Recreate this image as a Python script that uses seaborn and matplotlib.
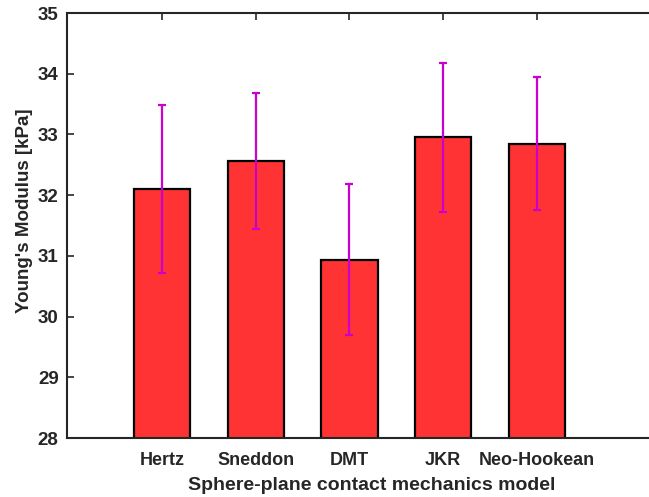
import matplotlib
matplotlib.use("Agg")
import matplotlib.pyplot as plt
import seaborn as sns
import numpy as np
import pandas as pd

# Contact-mechanics model fits: mean modulus and standard deviation (kPa)
models = ["Hertz", "Sneddon", "DMT", "JKR", "Neo-Hookean"]
modulus = [32.10, 32.56, 30.94, 32.95, 32.85]
stdev = [1.38, 1.12, 1.24, 1.23, 1.10]

y_ticks = [28, 29, 30, 31, 32, 33, 34, 35]

df = pd.DataFrame({"model": models, "modulus": modulus, "stdev": stdev})

sns.set_theme(style="white")
plt.rcParams["font.family"] = ["Liberation Sans", "DejaVu Sans"]
plt.rcParams["font.weight"] = "bold"

text_color = "#262626"

fig = plt.figure(figsize=(6.49, 4.97), dpi=100)
ax = fig.add_axes([67 / 649, 59 / 497, (162 + 5.5 * 93.7 - 67) / 649, 425 / 497])

sns.barplot(data=df, x="model", y="modulus", color="#FF3333", saturation=1,
            width=0.6, edgecolor="black", linewidth=1.6, errorbar=None, ax=ax)

ax.errorbar(np.arange(len(models)), df["modulus"], yerr=df["stdev"],
            fmt="none", ecolor="#CC00CC", elinewidth=1.6, capsize=3,
            capthick=1.6, zorder=5)

ax.set_ylim(28, 35)
ax.set_xlim(-1.014, 5.5)
ax.set_yticks(y_ticks)
ax.set_yticklabels([str(t) for t in y_ticks])

for side in ["left", "top", "bottom"]:
    ax.spines[side].set_visible(True)
    ax.spines[side].set_color(text_color)
    ax.spines[side].set_linewidth(1.5)
ax.spines["right"].set_visible(False)

ax.tick_params(axis="both", direction="in", length=5, width=1.2,
               color=text_color, labelcolor=text_color)
ax.tick_params(axis="x", top=True, bottom=True, pad=10, labelsize=13)
ax.tick_params(axis="y", left=True, pad=6, labelsize=13.5)
for lbl in ax.get_xticklabels() + ax.get_yticklabels():
    lbl.set_fontweight("bold")

ax.set_xlabel("Sphere-plane contact mechanics model", fontsize=14,
              fontweight="bold", color=text_color, labelpad=6)
ax.set_ylabel("Young's Modulus [kPa]", fontsize=13.5, fontweight="bold",
              color=text_color)
ax.yaxis.set_label_coords(-0.056, 0.534)
ax.grid(False)

fig.savefig("out.png", dpi=100)
